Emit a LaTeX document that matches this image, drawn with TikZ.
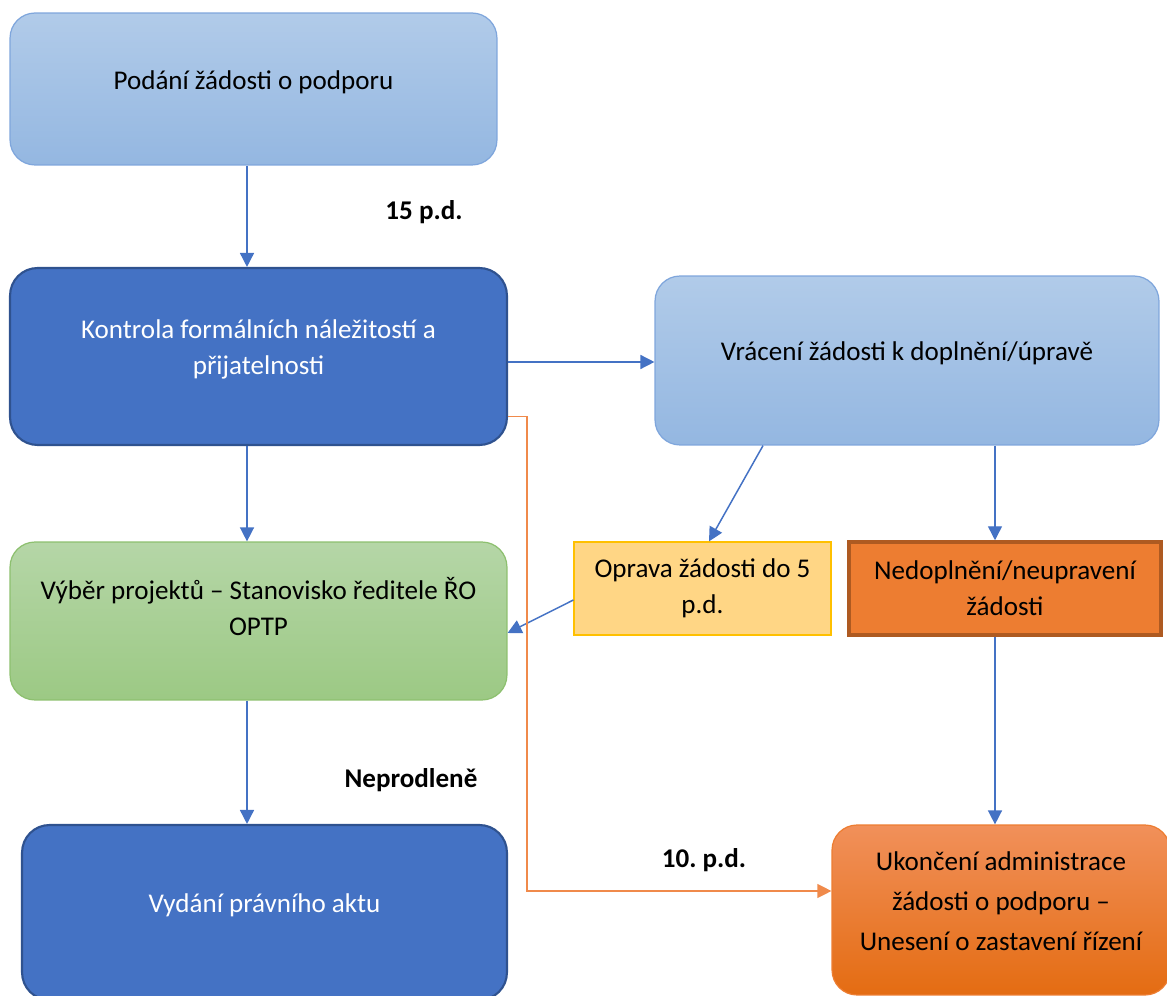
\documentclass[tikz,border=0pt]{standalone}
\usepackage{fontspec}
\setmainfont{Carlito}
\usetikzlibrary{arrows.meta}
\frenchspacing

\definecolor{lbTop}{HTML}{B1CBE9}
\definecolor{lbBottom}{HTML}{94B7E1}
\definecolor{lbBorder}{HTML}{7FA6DC}
\definecolor{dbFill}{HTML}{4472C4}
\definecolor{dbBorder}{HTML}{2F528F}
\definecolor{grTop}{HTML}{B5D6A7}
\definecolor{grBottom}{HTML}{9CC984}
\definecolor{grBorder}{HTML}{8DC06F}
\definecolor{yeFill}{HTML}{FFD685}
\definecolor{yeBorder}{HTML}{FFC000}
\definecolor{orFill}{HTML}{ED7D31}
\definecolor{orBorder}{HTML}{AE5A21}
\definecolor{orTop}{HTML}{F1905A}
\definecolor{orBottom}{HTML}{E46C12}
\definecolor{arrBlue}{HTML}{4472C4}
\definecolor{arrOrange}{HTML}{F08A4B}

\begin{document}
\begin{tikzpicture}[x=0.02cm, y=-0.02cm,
		box/.style={align=center, inner sep=0pt, font=\fontsize{15.4}{20.5}\selectfont},
		roundbox/.style={box, rounded corners=0.5cm, text depth=0.36cm},
		lightbox/.style={roundbox, draw=lbBorder, line width=0.7pt, top color=lbTop, bottom color=lbBottom},
		darkbox/.style={roundbox, rounded corners=0.55cm, draw=dbBorder, line width=1.2pt, fill=dbFill, text=white},
		greenbox/.style={roundbox, draw=grBorder, line width=0.7pt, top color=grTop, bottom color=grBottom},
		yellowbox/.style={box, draw=yeBorder, line width=0.7pt, fill=yeFill},
		orangebox/.style={box, draw=orBorder, line width=2pt, fill=orFill},
		endbox/.style={roundbox, draw=orFill, line width=0.7pt, top color=orTop, bottom color=orBottom},
		arr/.style={draw=arrBlue, line width=0.85pt, -{Triangle[length=0.28cm, width=0.28cm]}},
		arrback/.style={draw=arrOrange, line width=0.7pt, -{Triangle[length=0.28cm, width=0.28cm]}},
		days/.style={font=\fontsize{15.4}{18}\bfseries}
		]
	\useasboundingbox (0,0) rectangle (1167,996);

	% boxes
	\node [lightbox, minimum width=9.74cm, minimum height=3.04cm] (podani) at (253.5,89) {Podání žádosti o podporu};
	\node [darkbox, minimum width=9.94cm, minimum height=3.54cm] (kontrola) at (258.5,356.5) {Kontrola formálních náležitostí a\\ přijatelnosti};
	\node [lightbox, minimum width=10.08cm, minimum height=3.38cm] (vraceni) at (907,360.5) {Vrácení žádosti k doplnění/úpravě};
	\node [greenbox, minimum width=9.94cm, minimum height=3.16cm, text depth=0.6cm] (vyber) at (258.5,621) {Výběr projektů – Stanovisko ředitele ŘO\\ OPTP};
	\node [yellowbox, minimum width=5.14cm, minimum height=1.86cm] (oprava) at (702.5,588.5) {Oprava žádosti do 5\\ p.d.};
	\node [orangebox, minimum width=6.24cm, minimum height=1.86cm] (nedopl) at (1005,588.5) {Nedoplnění/neupravení\\ žádosti};
	\node [darkbox, minimum width=9.7cm, minimum height=3.5cm] (vydani) at (264.5,912.5) {Vydání právního aktu};
	\node [endbox, minimum width=6.76cm, minimum height=3.4cm, font=\fontsize{15.4}{22.8}\selectfont] (ukonceni) at (1001,910) {Ukončení administrace\\ žádosti o podporu –\\ Unesení o zastavení řízení};

	% labels
	\node [days] (lab15) at (424,212) {15 p.d.};
	\node [days] (labnep) at (411,780) {Neprodleně};
	\node [days] (lab10) at (704,860) {10. p.d.};

	% connectors
	\coordinate (laxis) at (247,0);
	\coordinate (raxis) at (995,0);
	\draw [arr] (podani.south -| laxis) -- (kontrola.north -| laxis);
	\draw [arr] (kontrola.south -| laxis) -- (vyber.north -| laxis);
	\draw [arr] (vyber.south -| laxis) -- (vydani.north -| laxis);
	\draw [arr] ([yshift=-0.11cm]kontrola.east) -- ([yshift=-0.11cm]kontrola.east -| vraceni.west);
	\draw [arr] ([xshift=-2.88cm]vraceni.south) -- ([xshift=0.13cm]oprava.north);
	\draw [arr] (vraceni.south -| raxis) -- (nedopl.north -| raxis);
	\draw [arr] (nedopl.south -| raxis) -- (ukonceni.north -| raxis);
	\draw [arr] ([yshift=-0.23cm]oprava.west) -- ([yshift=-0.24cm]vyber.east);
	\draw [arrback] ([yshift=-1.2cm]kontrola.east) -- ++(19,0) |- ([yshift=0.38cm]ukonceni.west);
\end{tikzpicture}
\end{document}
